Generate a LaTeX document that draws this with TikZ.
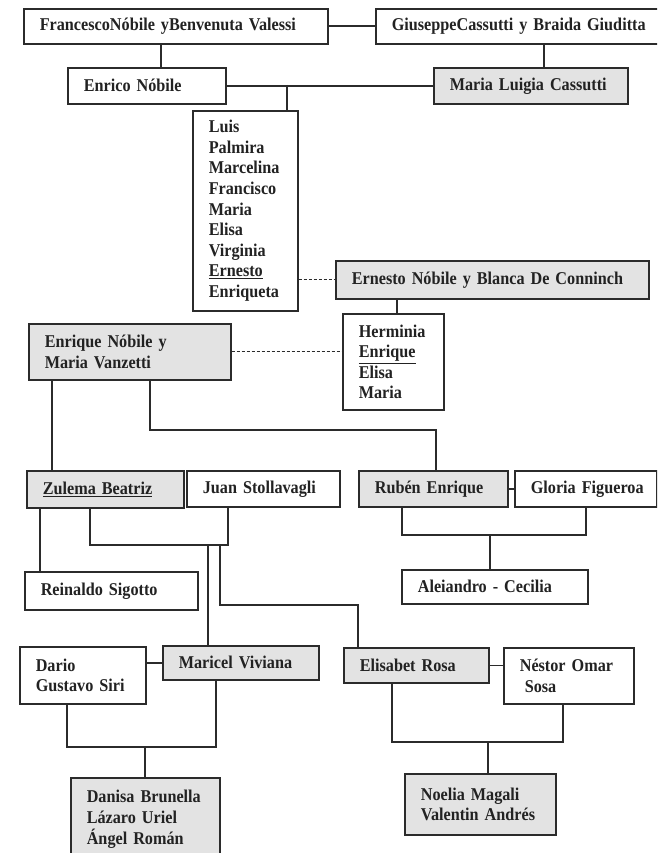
\documentclass[tikz,border=0pt]{standalone}
\usepackage{fontspec}
\setmainfont{Liberation Serif}[BoldFeatures={FakeStretch=0.9}]
\definecolor{linec}{HTML}{2B2B2B}
\definecolor{boxgray}{HTML}{E3E3E3}
\definecolor{txt}{HTML}{222222}
\newcommand\fs{\fontsize{18}{20.6}\selectfont\bfseries}
\tikzset{
  wb/.style={draw=linec, line width=1.6pt, fill=white, anchor=north west,
    inner xsep=16pt, inner ysep=0pt, align=left, font=\fs, text=txt},
  gb/.style={wb, fill=boxgray},
  ln/.style={draw=linec, line width=1.6pt},
  dl/.style={draw=linec, line width=1pt, dash pattern=on 3pt off 2pt}
}
\begin{document}
\begin{tikzpicture}[x=1pt,y=-1pt]
\useasboundingbox (0,0) rectangle (657,853);
\clip (0,0) rectangle (657,853);
\fill[white] (0,0) rectangle (657,853);
% boxes
\node[wb, text width=272pt, minimum height=35pt] (fran) at (23,8) {\mbox{FrancescoNóbile yBenvenuta Valessi}};
\node[wb, text width=258pt, minimum height=35pt] (gius) at (375,8) {\mbox{GiuseppeCassutti y Braida Giuditta}};
\node[wb, text width=126pt, minimum height=36pt] (enrico) at (67,67) {\mbox{Enrico Nóbile}};
\node[gb, text width=162pt, minimum height=36pt] (mlc) at (433,67) {\mbox{Maria Luigia Cassutti}};
\node[wb, text width=73pt, minimum height=200pt] (luis) at (192,110) {\mbox{Luis}\\\mbox{Palmira}\\\mbox{Marcelina}\\\mbox{Francisco}\\\mbox{Maria}\\\mbox{Elisa}\\\mbox{Virginia}\\\mbox{\underline{Ernesto}}\\\mbox{Enriqueta}};
\node[gb, text width=281pt, minimum height=38pt] (ernb) at (335,260) {\mbox{Ernesto Nóbile y Blanca De Conninch}};
\node[wb, text width=69pt, minimum height=96pt] (herm) at (342,313) {\mbox{Herminia}\\\mbox{\underline{Enrique}}\\\mbox{Elisa}\\\mbox{Maria}};
\node[gb, text width=170pt, minimum height=56pt] (enq) at (28,323) {\mbox{Enrique Nóbile y}\\\mbox{Maria Vanzetti}};
\node[gb, text width=125pt, minimum height=37pt] (zul) at (26,470) {\mbox{\underline{Zulema Beatriz}}};
\node[wb, text width=121pt, minimum height=36pt] (juan) at (186,470) {\mbox{Juan Stollavagli}};
\node[gb, text width=117pt, minimum height=36pt] (ruben) at (358,470) {\mbox{Rubén Enrique}};
\node[wb, text width=110pt, minimum height=36pt] (gloria) at (514,470) {\mbox{Gloria Figueroa}};
\node[wb, text width=141pt, minimum height=38pt] (rein) at (24,571) {\mbox{Reinaldo Sigotto}};
\node[wb, text width=154pt, minimum height=34pt] (alej) at (401,569) {\mbox{Aleiandro - Cecilia}};
\node[wb, text width=94pt, minimum height=57pt] (dario) at (19,646) {\mbox{Dario}\\\mbox{Gustavo Siri}};
\node[gb, text width=124pt, minimum height=34pt] (maricel) at (162,645) {\mbox{Maricel Viviana}};
\node[gb, text width=113pt, minimum height=35pt] (elis) at (343,647) {\mbox{Elisabet Rosa}};
\node[wb, text width=98pt, minimum height=56pt] (nestor) at (503,647) {\mbox{Néstor Omar}\\\mbox{\hspace*{5pt}Sosa}};
\node[gb, text width=117pt, minimum height=83pt] (danisa) at (70,777) {\mbox{Danisa Brunella}\\\mbox{Lázaro Uriel}\\\mbox{Ángel Román}};
\node[gb, text width=119pt, minimum height=61pt] (noelia) at (404,773) {\mbox{Noelia Magali}\\\mbox{Valentin Andrés}};
% junction coordinates
\coordinate (c1) at (161,0);
\coordinate (c2) at (544,0);
\coordinate (c3) at (287,85);
\coordinate (c4) at (397,0);
\coordinate (c5) at (52,0);
\coordinate (c6) at (150,430);
\coordinate (c7) at (436,430);
\coordinate (c8) at (90,545);
\coordinate (c9) at (228,545);
\coordinate (c10) at (208,545);
\coordinate (c11) at (220,545);
\coordinate (c12) at (220,605);
\coordinate (c13) at (358,605);
\coordinate (c14) at (40,0);
\coordinate (c15) at (402,535);
\coordinate (c16) at (586,535);
\coordinate (c17) at (490,535);
\coordinate (c18) at (67,747);
\coordinate (c19) at (216,747);
\coordinate (c20) at (145,747);
\coordinate (c21) at (392,742);
\coordinate (c22) at (563,742);
\coordinate (c23) at (488,742);
% connectors
\draw[ln] (fran.east) -- (gius.west);
\draw[ln] (fran.south -| c1) -- (enrico.north -| c1);
\draw[ln] (gius.south -| c2) -- (mlc.north -| c2);
\draw[ln] (enrico.east) -- (mlc.west);
\draw[ln] (c3) -- (luis.north -| c3);
\draw[dl] (ernb.west -| luis.east) -- (ernb.west);
\draw[ln] (ernb.south -| c4) -- (herm.north -| c4);
\draw[dl] (enq.east) -- (enq.east -| herm.west);
\draw[ln] (enq.south -| c5) -- (zul.north -| c5);
\draw[ln] (enq.south -| c6) -- (c6) -- (c7) -- (ruben.north -| c7);
\draw[ln] (ruben.east) -- (gloria.west);
\draw[ln] (zul.south -| c8) -- (c8) -- (c9) -- (juan.south -| c9);
\draw[ln] (c10) -- (maricel.north -| c10);
\draw[ln] (c11) -- (c12) -- (c13) -- (elis.north -| c13);
\draw[ln] (zul.south -| c14) -- (rein.north -| c14);
\draw[ln] (ruben.south -| c15) -- (c15) -- (c16) -- (gloria.south -| c16);
\draw[ln] (c17) -- (alej.north -| c17);
\draw[ln] (maricel.west -| dario.east) -- (maricel.west);
\draw[ln] (elis.east) -- (elis.east -| nestor.west);
\draw[ln] (dario.south -| c18) -- (c18) -- (c19) -- (maricel.south -| c19);
\draw[ln] (c20) -- (danisa.north -| c20);
\draw[ln] (elis.south -| c21) -- (c21) -- (c22) -- (nestor.south -| c22);
\draw[ln] (c23) -- (noelia.north -| c23);
\end{tikzpicture}
\end{document}
